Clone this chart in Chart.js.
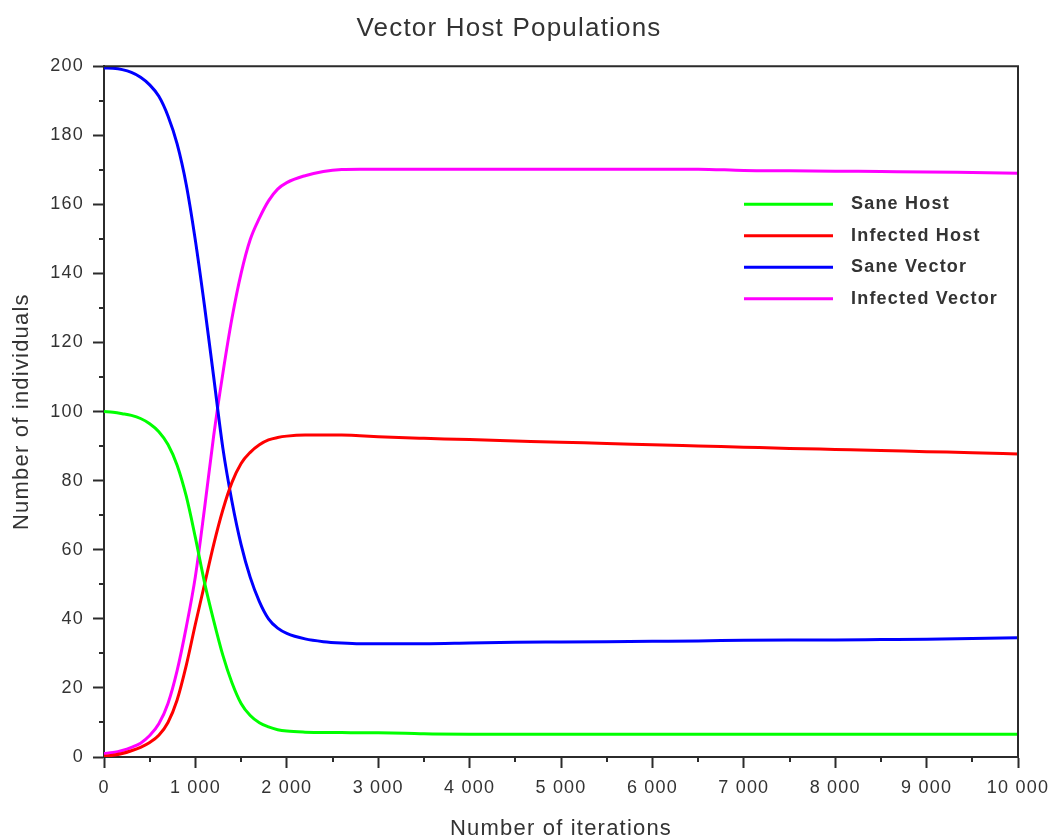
<!DOCTYPE html>
<html>
<head>
<meta charset="utf-8">
<title>Vector Host Populations</title>
<script src="https://cdn.jsdelivr.net/npm/chart.js@4/dist/chart.umd.min.js"></script>
<style>
    html, body { margin: 0; padding: 0; background: #fff; }
    canvas { display: block; }
</style>
</head>
<body>
<canvas id="chart" width="1052" height="840"></canvas>
<script>
// iteration steps shared by all four series
const iterations = [0, 100, 200, 300, 400, 500, 600, 700, 800, 900, 1000, 1100, 1200, 1300, 1400, 1500, 1600,
    1700, 1800, 1900, 2000, 2200, 2400, 2600, 2800, 3000, 3300, 3500, 4000, 4500, 5000, 5500,
    6000, 6500, 7000, 7500, 8000, 8500, 9000, 9500, 10000];

const saneHost = [100, 99.8, 99.4, 98.9, 98.0, 96.5, 94.2, 90.5, 84.5, 75.5, 63.5, 50.5, 39.5, 29.5, 21.5, 15.5, 12.0,
    9.9, 8.7, 7.9, 7.5, 7.2, 7.1, 7.1, 7.0, 7.0, 6.9, 6.7, 6.6, 6.6, 6.6, 6.6,
    6.6, 6.6, 6.6, 6.6, 6.6, 6.6, 6.6, 6.6, 6.6];

const infectedHost = [0.2, 0.5, 1.0, 1.8, 2.8, 4.2, 6.3, 10.0, 16.5, 26.5, 38.5, 50.0, 61.5, 71.5, 79.5, 85, 88.2,
    90.4, 91.8, 92.5, 92.9, 93.2, 93.2, 93.2, 93.0, 92.7, 92.4, 92.25, 91.9, 91.5, 91.1, 90.8,
    90.4, 90.05, 89.7, 89.35, 89.05, 88.75, 88.4, 88.1, 87.7];

const saneVector = [199.5, 199.4, 199.0, 198.2, 196.8, 194.6, 191.3, 185.6, 177.5, 165.7, 149.5, 130.5, 110, 89.5, 74, 61.5, 52,
    45, 40, 37.3, 35.8, 34.2, 33.4, 33.0, 32.8, 32.8, 32.8, 32.8, 33.0, 33.2, 33.3, 33.4,
    33.5, 33.6, 33.8, 33.9, 33.9, 34.0, 34.1, 34.3, 34.5];

const infectedVector = [1.0, 1.3, 1.9, 2.8, 4.0, 6.2, 9.6, 15.5, 25, 37.6, 52.3, 72, 93, 111, 127, 140, 149.8,
    156, 161, 164.4, 166.3, 168.3, 169.5, 170.1, 170.2, 170.2, 170.2, 170.2, 170.2, 170.2, 170.2, 170.2,
    170.2, 170.2, 169.8, 169.7, 169.6, 169.5, 169.4, 169.2, 169.0];

const seriesNames = ['Sane Host', 'Infected Host', 'Sane Vector', 'Infected Vector'];
const seriesColors = ['#00ff00', '#ff0000', '#0000ff', '#ff00ff'];

const FONT = "'Liberation Sans', Arial, sans-serif";
const TEXT = '#333';
const AXIS = '#2b2b2b';

const toPoints = values => values.map((v, i) => ({ x: iterations[i], y: v }));
const withSpaces = v => String(v).replace(/\B(?=(\d{3})+(?!\d))/g, ' ');

// wider glyph spacing for every label on the canvas
const spacing = {
    id: 'spacing',
    beforeLayout(chart) { chart.ctx.letterSpacing = '1.2px'; },
    beforeDraw(chart) { chart.ctx.letterSpacing = '1.2px'; }
};

// closes the box, adds minor ticks and draws the legend inside the plot
const boxAndLegend = {
    id: 'boxAndLegend',
    afterDatasetsDraw(chart) {
        const ctx = chart.ctx,
            area = chart.chartArea,
            xs = chart.scales.x,
            ys = chart.scales.y;

        ctx.save();
        ctx.strokeStyle = AXIS;
        ctx.lineWidth = 2;
        ctx.beginPath();
        ctx.moveTo(area.left, area.top);
        ctx.lineTo(area.right, area.top);
        ctx.lineTo(area.right, area.bottom);
        ctx.stroke();

        ctx.beginPath();
        for (let v = 500; v < 10000; v += 1000) {
            const px = Math.round(xs.getPixelForValue(v));
            ctx.moveTo(px, area.bottom);
            ctx.lineTo(px, area.bottom + 5);
        }
        for (let v = 10; v < 200; v += 20) {
            const py = Math.round(ys.getPixelForValue(v));
            ctx.moveTo(area.left, py);
            ctx.lineTo(area.left - 5, py);
        }
        ctx.stroke();

        ctx.font = 'bold 18px ' + FONT;
        ctx.letterSpacing = '1.2px';
        ctx.textBaseline = 'middle';
        ctx.textAlign = 'left';
        chart.data.datasets.forEach((ds, i) => {
            const y = area.top + 138 + i * 31.5;
            ctx.strokeStyle = ds.borderColor;
            ctx.lineWidth = 3;
            ctx.beginPath();
            ctx.moveTo(area.right - 274, y);
            ctx.lineTo(area.right - 185, y);
            ctx.stroke();
            ctx.fillStyle = TEXT;
            ctx.fillText(ds.label, area.right - 167, y);
        });
        ctx.restore();
    }
};

Chart.defaults.font.family = FONT;
Chart.defaults.color = TEXT;

new Chart(document.getElementById('chart'), {
    type: 'line',
    data: {
        datasets: [saneHost, infectedHost, saneVector, infectedVector].map((values, i) => ({
            label: seriesNames[i],
            data: toPoints(values),
            borderColor: seriesColors[i],
            backgroundColor: seriesColors[i],
            borderWidth: 3,
            pointRadius: 0,
            cubicInterpolationMode: 'monotone',
            fill: false
        }))
    },
    options: {
        responsive: false,
        animation: false,
        layout: {
            padding: { left: 0, right: 34, top: 0, bottom: 0 }
        },
        scales: {
            x: {
                type: 'linear',
                min: 0,
                max: 10000,
                afterFit: scale => {
                    scale.height = 83;
                    scale.paddingLeft = 0;
                    scale.paddingRight = 0;
                },
                ticks: {
                    stepSize: 1000,
                    maxRotation: 0,
                    padding: 9,
                    font: { size: 18 },
                    callback: v => withSpaces(v)
                },
                grid: { drawOnChartArea: false, tickLength: 11, tickWidth: 2, tickColor: AXIS },
                border: { color: AXIS, width: 2 },
                title: {
                    display: true,
                    text: 'Number of iterations',
                    font: { size: 22 },
                    padding: { top: 0, bottom: -2 }
                }
            },
            y: {
                min: 0,
                max: 200,
                afterFit: scale => { scale.width = 104; },
                ticks: {
                    stepSize: 20,
                    padding: 9,
                    font: { size: 18 }
                },
                grid: { drawOnChartArea: false, tickLength: 11, tickWidth: 2, tickColor: AXIS },
                border: { color: AXIS, width: 2 },
                title: {
                    display: true,
                    text: 'Number of individuals',
                    font: { size: 22 },
                    padding: { top: 9, bottom: 0 }
                }
            }
        },
        plugins: {
            legend: { display: false },
            tooltip: { enabled: false },
            title: {
                display: true,
                text: 'Vector Host Populations',
                color: TEXT,
                font: { size: 26, weight: 'normal' },
                padding: { top: 13, bottom: 22 }
            }
        }
    },
    plugins: [spacing, boxAndLegend]
});
</script>
</body>
</html>
